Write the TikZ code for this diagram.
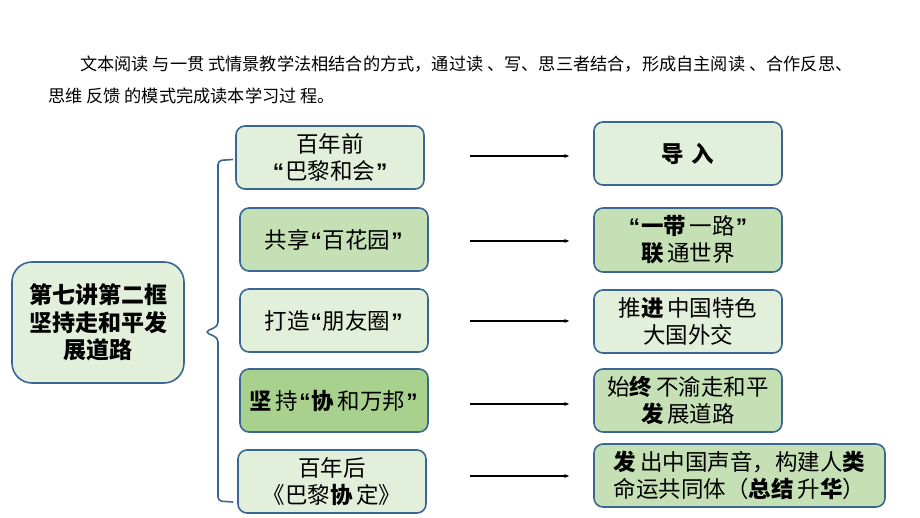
\documentclass[tikz,border=0pt]{standalone}
\usepackage{fontspec}
\setmainfont{Noto Sans CJK SC}
\newfontfamily\quotefont{Liberation Sans}
\newcommand{\oq}{{\quotefont\bfseries\kern1pt“\kern1pt}}
\newcommand{\cq}{{\quotefont\bfseries\kern1pt”\kern1pt}}
\usetikzlibrary{arrows.meta}
\definecolor{boxblue}{HTML}{3A6791}
\definecolor{fillA}{HTML}{E2EFDA}
\definecolor{fillB}{HTML}{C5E0B4}
\definecolor{fillC}{HTML}{A9D18E}
\tikzset{
  box/.style={draw=boxblue, line width=1.6pt, rounded corners=9pt, align=center,
    minimum width=188pt, minimum height=63pt, inner sep=2pt,
    font=\fontsize{22.5}{27}\selectfont},
  lightbox/.style={box, fill=fillA},
  midbox/.style={box, fill=fillB},
  darkbox/.style={box, fill=fillC},
  conn/.style={-{Stealth[length=5pt,width=4pt]}, line width=1.1pt, black},
  bracketline/.style={draw=boxblue, line width=1.6pt, rounded corners=4pt},
  para/.style={anchor=west, inner sep=0pt, font=\fontsize{17.2}{20}\selectfont}
}
\begin{document}
\begin{tikzpicture}[x=1pt,y=-1pt]
\useasboundingbox[fill=white] (0,0) rectangle (920,518);
\node[para] (p1) at (80,64) {文本阅读 与一贯 式情景教学法相结合的方式，通过读 、写、思三者结合，形成自主阅读 、合作反思、};
\node[para] (p2) at (48,96) {思维 反馈 的模式完成读本学习过 程。};

\node[lightbox, minimum width=172pt, minimum height=121pt, rounded corners=20pt,
  font=\fontsize{23}{27.5}\selectfont\bfseries] (main) at (98,322.5) {第七讲第二框\\坚持走和平发\\展道路};

\node[lightbox] (l1) at (330,157.5) {百年前\\\oq 巴黎和会\cq};
\node[midbox]   (l2) at (334,239.5) {共享\oq 百花园\cq};
\node[lightbox] (l3) at (334,320.5) {打造\oq 朋友圈\cq};
\node[darkbox]  (l4) at (334,400.5) {\textbf{坚}\,持\oq\textbf{协}\,和万邦\cq};
\node[lightbox] (l5) at (332,481.5) {百年后\\《巴黎\textbf{协}\,定》};

\node[lightbox] (r1) at (688,153.5) {\textbf{导\,\,入}};
\node[midbox, minimum height=64pt] (r2) at (688,240) {\oq\textbf{一带}\,一路\cq\\\textbf{联}\,通世界};
\node[lightbox] (r3) at (688,321.5) {推\textbf{进}\,中国特色\\大国外交};
\node[midbox]   (r4) at (688,400.5) {始\textbf{终}\,不渝走和平\\\textbf{发}\,展道路};
\node[midbox, minimum width=291pt] (r5) at (739.5,475.5) {\textbf{发}\,出中国声音，构建人\textbf{类}\\命运共同体（\textbf{总结}\,升\textbf{华}）};

\coordinate (a1) at (470,156);
\coordinate (a2) at (470,241);
\coordinate (a3) at (470,321);
\coordinate (a4) at (470,404);
\coordinate (a5) at (470,476);
\draw[conn, shorten >=24pt] (a1) -- (a1 -| r1.west);
\draw[conn, shorten >=24pt] (a2) -- (a2 -| r2.west);
\draw[conn, shorten >=24pt] (a3) -- (a3 -| r3.west);
\draw[conn, shorten >=24pt] (a4) -- (a4 -| r4.west);
\draw[conn, shorten >=24pt] (a5) -- (a5 -| r5.west);

\coordinate (bt) at (233,159.5);
\coordinate (bb) at (233,502);
\coordinate (bn) at (205,332);
\draw[bracketline] (bt) -- (218,160.5) -- (218,326) -- (bn) -- (218,338) -- (218,501) -- (bb);
\end{tikzpicture}
\end{document}
